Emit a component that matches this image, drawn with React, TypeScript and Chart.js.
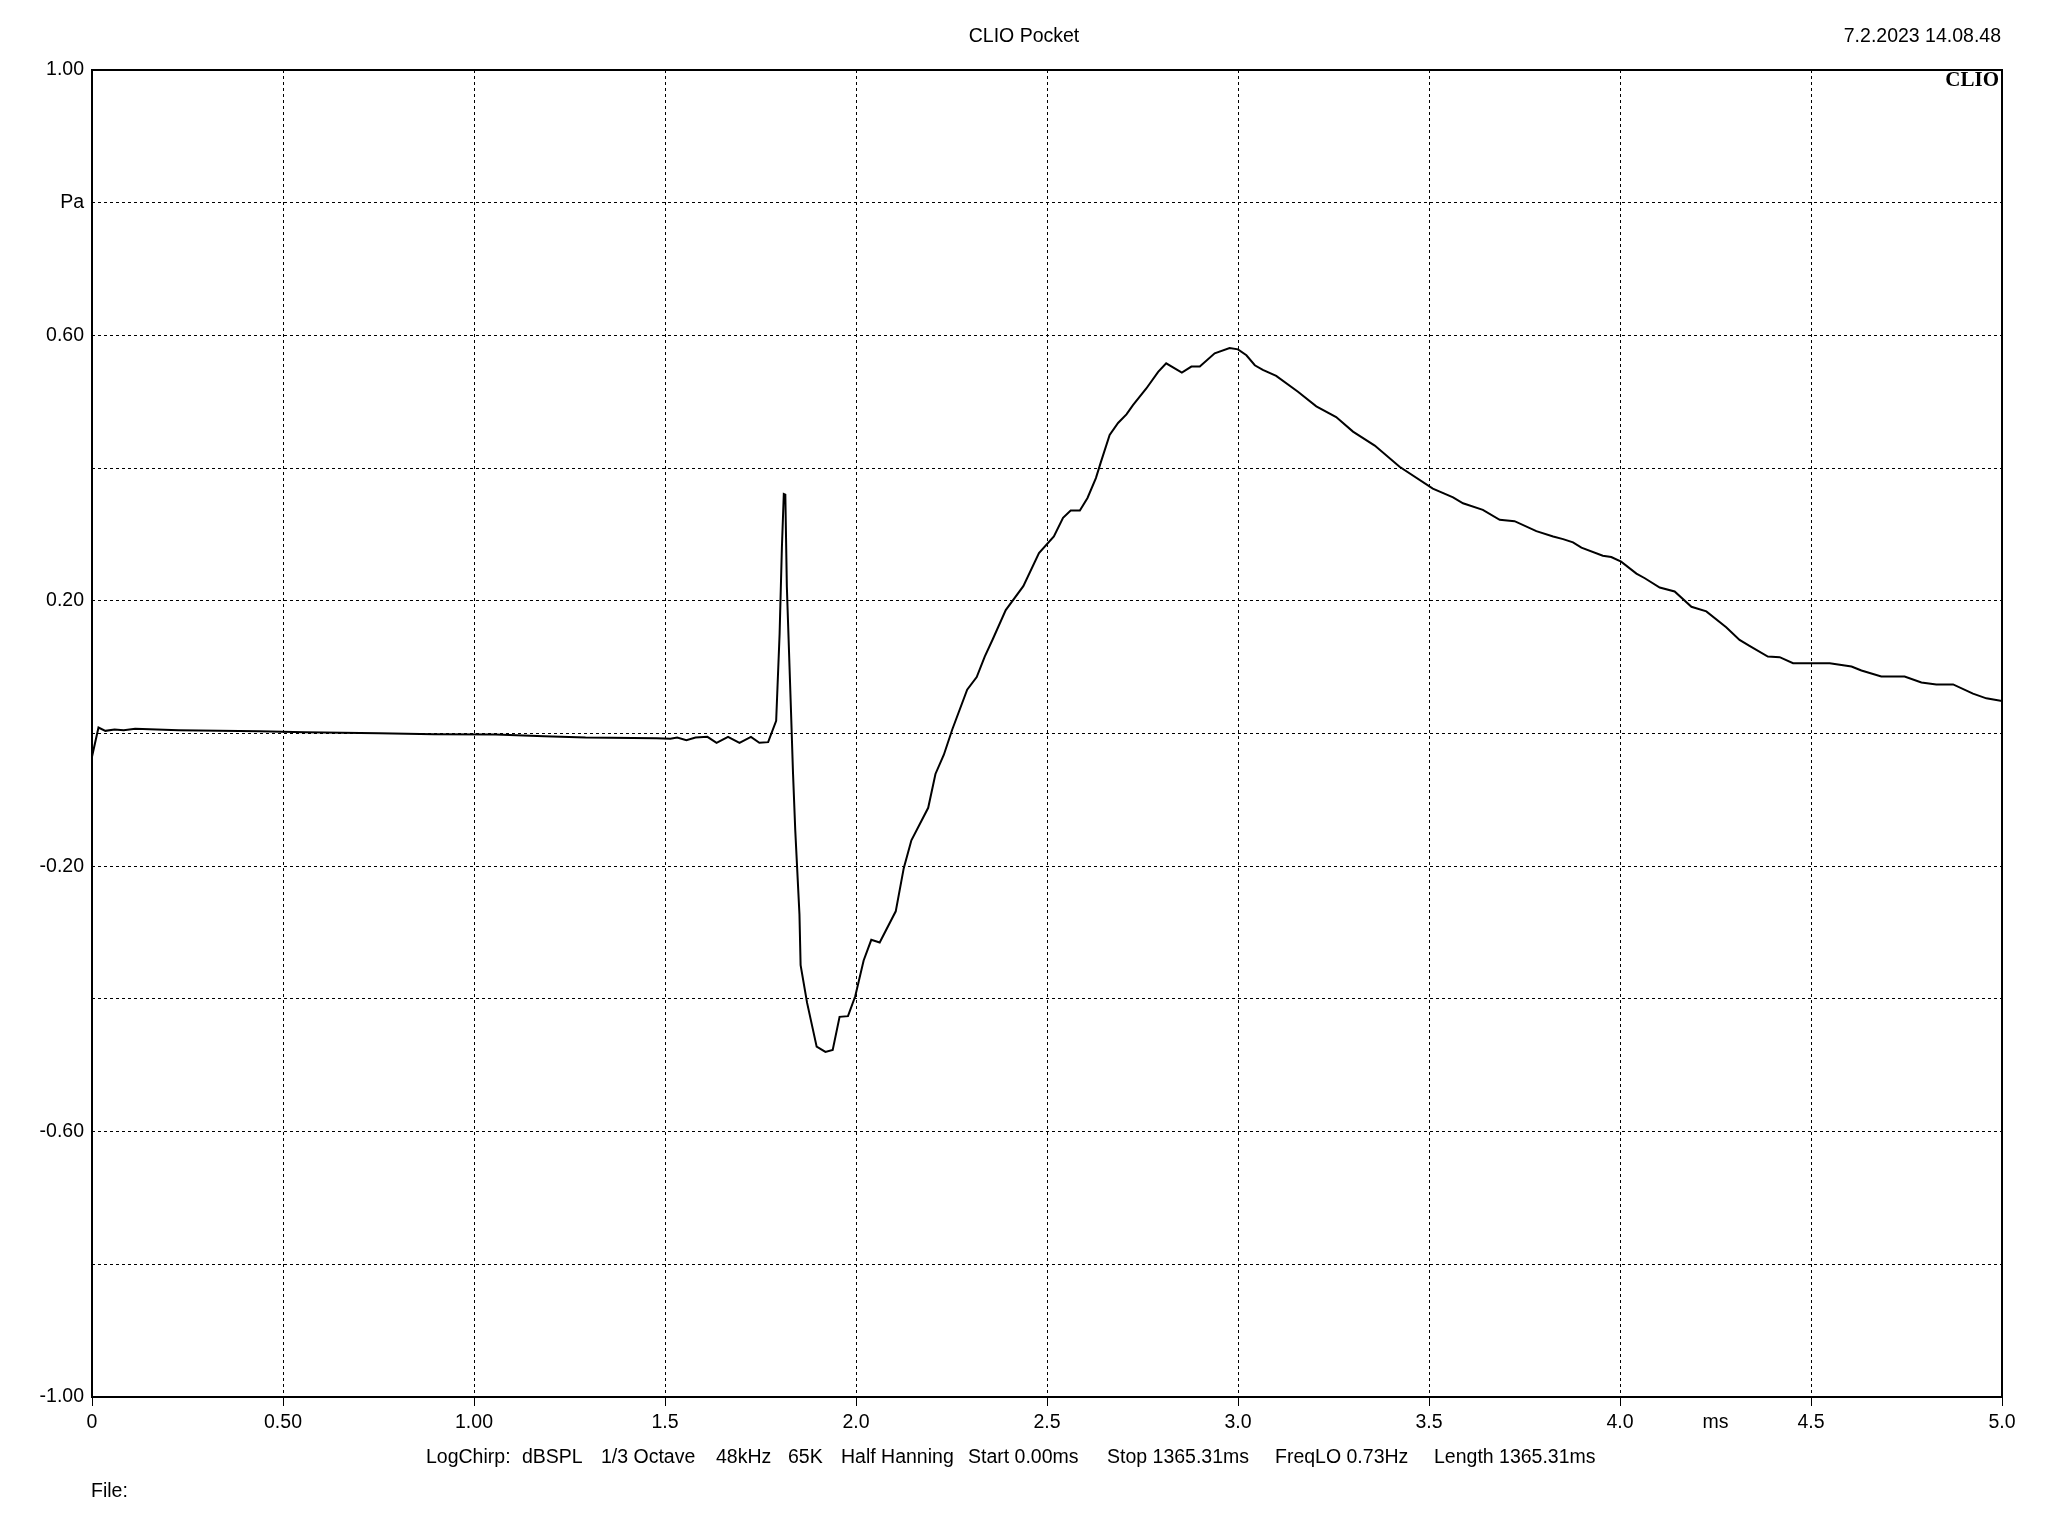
import React, { useEffect, useRef } from "react";
import { Chart, registerables } from "chart.js";

Chart.register(...registerables);

// Time axis (ms)
const timeMs: number[] = [
  0, 0.017, 0.035, 0.059, 0.083, 0.113, 0.227, 0.438, 0.558, 0.751, 0.895, 1.057, 1.184, 1.292,
  1.478, 1.514, 1.532, 1.556, 1.58, 1.611, 1.635, 1.665, 1.695, 1.725, 1.747, 1.77, 1.791, 1.8,
  1.806, 1.811, 1.815, 1.819, 1.83, 1.835, 1.841, 1.852, 1.855, 1.872, 1.897, 1.92, 1.939, 1.957,
  1.979, 1.998, 2.02, 2.04, 2.062, 2.104, 2.125, 2.145, 2.189, 2.208, 2.23, 2.252, 2.291, 2.316,
  2.337, 2.358, 2.392, 2.438, 2.479, 2.518, 2.542, 2.562, 2.586, 2.606, 2.628, 2.641, 2.664, 2.686,
  2.708, 2.725, 2.76, 2.791, 2.812, 2.853, 2.878, 2.9, 2.939, 2.978, 3.0, 3.022, 3.044, 3.065, 3.1,
  3.157, 3.205, 3.257, 3.301, 3.358, 3.423, 3.51, 3.563, 3.589, 3.641, 3.685, 3.724, 3.781, 3.825,
  3.851, 3.877, 3.899, 3.955, 3.977, 4.003, 4.043, 4.065, 4.104, 4.143, 4.187, 4.226, 4.278, 4.313,
  4.339, 4.387, 4.418, 4.453, 4.549, 4.606, 4.632, 4.684, 4.745, 4.789, 4.828, 4.872, 4.924, 4.959,
  5.0,
];

// Pressure (Pa)
const pressurePa: number[] = [
  -0.035, 0.009, 0.004, 0.006, 0.005, 0.007, 0.005, 0.0035, 0.002, 0.0005, -0.001, -0.0015, -0.004,
  -0.006, -0.007, -0.008, -0.006, -0.01, -0.006, -0.005, -0.014, -0.005, -0.014, -0.005, -0.014,
  -0.013, 0.019, 0.15, 0.28, 0.361, 0.36, 0.221, 0.031, -0.058, -0.146, -0.273, -0.349, -0.406,
  -0.472, -0.48, -0.477, -0.427, -0.426, -0.396, -0.342, -0.311, -0.315, -0.268, -0.203, -0.161,
  -0.112, -0.061, -0.032, 0.006, 0.066, 0.085, 0.116, 0.142, 0.186, 0.222, 0.272, 0.297, 0.325,
  0.336, 0.336, 0.355, 0.385, 0.409, 0.45, 0.468, 0.481, 0.495, 0.52, 0.545, 0.558, 0.544, 0.553,
  0.553, 0.573, 0.581, 0.579, 0.57, 0.555, 0.548, 0.539, 0.515, 0.493, 0.477, 0.455, 0.434, 0.402,
  0.369, 0.356, 0.347, 0.337, 0.322, 0.32, 0.305, 0.297, 0.293, 0.288, 0.28, 0.268, 0.266, 0.259,
  0.241, 0.234, 0.22, 0.214, 0.191, 0.184, 0.16, 0.141, 0.132, 0.116, 0.115, 0.106, 0.106, 0.101,
  0.095, 0.086, 0.086, 0.077, 0.074, 0.074, 0.06, 0.053, 0.049,
];

// Tick labels
const xTickValues: number[] = [0, 0.5, 1.0, 1.5, 2.0, 2.5, 3.0, 3.5, 4.0, 4.5, 5.0];
const xTickLabels: string[] = ["0", "0.50", "1.00", "1.5", "2.0", "2.5", "3.0", "3.5", "4.0", "4.5", "5.0"];
const xUnitValue = 4.25;
const xUnitLabel = "ms";
const yTickValues: number[] = [-1.0, -0.8, -0.6, -0.4, -0.2, 0, 0.2, 0.4, 0.6, 0.8, 1.0];
const yTickLabels: string[] = ["-1.00", "", "-0.60", "", "-0.20", "", "0.20", "", "0.60", "Pa", "1.00"];

const titleText = "CLIO Pocket";
const dateText = "7.2.2023 14.08.48";
const logoText = "CLIO";
const fileText = "File:";
const infoItems: string[] = [
  "LogChirp:",
  "dBSPL",
  "1/3 Octave",
  "48kHz",
  "65K",
  "Half Hanning",
  "Start 0.00ms",
  "Stop 1365.31ms",
  "FreqLO 0.73Hz",
  "Length 1365.31ms",
];
const infoX: number[] = [426, 522, 601, 716, 788, 841, 968, 1107, 1275, 1434];

const FONT = "'Liberation Sans', Arial, sans-serif";
const FSIZE = 19.5;

const near = (a: number, b: number) => Math.abs(a - b) < 1e-6;

export default function App() {
  const canvasRef = useRef<HTMLCanvasElement | null>(null);

  useEffect(() => {
    const canvas = canvasRef.current;
    if (!canvas) return;

    const decorPlugin = {
      id: "decor",
      afterDraw(chart: any) {
        const { ctx, chartArea } = chart;
        ctx.save();
        ctx.strokeStyle = "#000";
        ctx.lineWidth = 2;
        ctx.setLineDash([]);
        ctx.strokeRect(chartArea.left, chartArea.top, chartArea.right - chartArea.left, chartArea.bottom - chartArea.top);

        ctx.fillStyle = "#000";
        ctx.font = `${FSIZE}px ${FONT}`;
        ctx.textBaseline = "middle";
        ctx.textAlign = "center";
        ctx.fillText(titleText, 1024, 37);
        ctx.textAlign = "right";
        ctx.fillText(dateText, 2001, 37);
        ctx.textAlign = "left";
        infoItems.forEach((s, i) => ctx.fillText(s, infoX[i], 1458));
        ctx.fillText(fileText, 91, 1492);

        ctx.font = `bold 21px 'Liberation Serif', 'Times New Roman', serif`;
        ctx.textAlign = "right";
        ctx.textBaseline = "alphabetic";
        ctx.fillText(logoText, 1999, 86);
        ctx.restore();
      },
    };

    const chart = new Chart(canvas, {
      type: "line",
      data: {
        datasets: [
          {
            data: timeMs.map((t, i) => ({ x: t, y: pressurePa[i] })),
            borderColor: "#000",
            borderWidth: 2,
            pointRadius: 0,
            tension: 0,
            fill: false,
          },
        ],
      },
      options: {
        responsive: false,
        animation: false,
        events: [],
        layout: { padding: { top: 70, right: 46, left: 0, bottom: 0 } },
        plugins: { legend: { display: false }, tooltip: { enabled: false }, title: { display: false } },
        scales: {
          x: {
            type: "linear",
            min: 0,
            max: 5,
            afterFit: (scale: any) => {
              scale.height = 139;
            },
            afterBuildTicks: (scale: any) => {
              const vals = [...xTickValues, xUnitValue].sort((a, b) => a - b);
              scale.ticks = vals.map((v) => ({ value: v }));
            },
            ticks: {
              autoSkip: false,
              maxRotation: 0,
              minRotation: 0,
              padding: 5,
              color: "#000",
              font: { family: FONT, size: FSIZE },
              callback: (value: any) => {
                const v = Number(value);
                if (near(v, xUnitValue)) return xUnitLabel;
                const idx = xTickValues.findIndex((a) => near(a, v));
                return idx >= 0 ? xTickLabels[idx] : "";
              },
            },
            grid: {
              color: (c: any) => (c.tick && near(c.tick.value, xUnitValue) ? "rgba(0,0,0,0)" : "#000"),
              tickColor: (c: any) => (c.tick && near(c.tick.value, xUnitValue) ? "rgba(0,0,0,0)" : "#000"),
              lineWidth: 1,
              drawTicks: true,
              tickLength: 9,
              tickWidth: 1,
            },
            border: { display: false, dash: [3, 3] },
          },
          y: {
            type: "linear",
            min: -1,
            max: 1,
            afterFit: (scale: any) => {
              scale.width = 92;
            },
            afterBuildTicks: (scale: any) => {
              scale.ticks = yTickValues.map((v) => ({ value: v }));
            },
            ticks: {
              autoSkip: false,
              padding: 8,
              color: "#000",
              font: { family: FONT, size: FSIZE },
              callback: (value: any) => {
                const v = Number(value);
                const idx = yTickValues.findIndex((a) => near(a, v));
                return idx >= 0 ? yTickLabels[idx] : "";
              },
            },
            grid: {
              color: "#000",
              lineWidth: 1,
              drawTicks: false,
            },
            border: { display: false, dash: [3, 3] },
          },
        },
      },
      plugins: [decorPlugin],
    } as any);

    return () => {
      chart.destroy();
    };
  }, []);

  return (
    <div style={{ position: "absolute", left: 0, top: 0, width: 2048, height: 1536, background: "#fff" }}>
      <canvas ref={canvasRef} width={2048} height={1536} style={{ width: 2048, height: 1536, display: "block" }} />
    </div>
  );
}
